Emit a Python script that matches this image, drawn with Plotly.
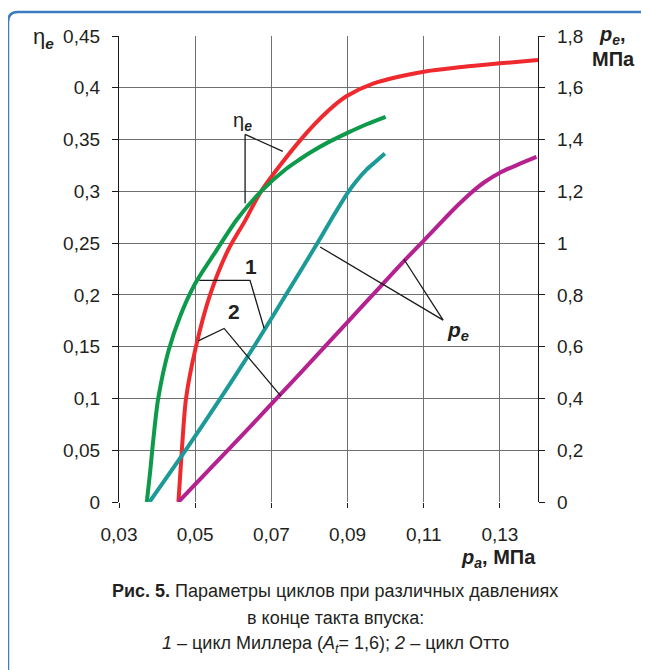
import plotly.graph_objects as go

# ---------------- data ----------------
# eta_e, Miller cycle (1) - green, left axis
miller_eta_x = [0.0373, 0.0382, 0.0390, 0.0403, 0.0430, 0.0460, 0.0500, 0.0556, 0.0610, 0.0673, 0.0740, 0.0775, 0.0800, 0.0850, 0.0900, 0.0950, 0.1000]
miller_eta_y = [0.0, 0.03, 0.06, 0.10, 0.146, 0.179, 0.211, 0.243, 0.273, 0.300, 0.322, 0.331, 0.337, 0.3475, 0.3565, 0.3648, 0.372]

# eta_e, Otto cycle (2) - red, left axis
otto_eta_x = [0.0456, 0.0465, 0.0476, 0.0502, 0.0539, 0.0586, 0.0630, 0.0673, 0.0775, 0.0850, 0.0898, 0.0967, 0.1100, 0.1200, 0.1300, 0.1400]
otto_eta_y = [0.0, 0.05, 0.10, 0.15, 0.20, 0.243, 0.271, 0.300, 0.349, 0.378, 0.392, 0.404, 0.4155, 0.420, 0.4236, 0.4268]

# p_e, Miller cycle (1) - teal, right axis (MPa)
miller_pe_x = [0.0380, 0.0475, 0.0565, 0.0639, 0.0683, 0.0731, 0.0823, 0.0860, 0.0902, 0.0925, 0.0950, 0.0975, 0.0998]
miller_pe_y = [0.0, 0.20, 0.397, 0.565, 0.668, 0.783, 1.005, 1.098, 1.198, 1.243, 1.284, 1.316, 1.346]

# p_e, Otto cycle (2) - purple, right axis (MPa)
otto_pe_x = [0.0456, 0.0550, 0.0644, 0.0720, 0.0784, 0.0900, 0.0985, 0.1051, 0.1100, 0.1150, 0.1190, 0.1221, 0.1260, 0.1300, 0.1350, 0.1396]
otto_pe_y = [0.0, 0.145, 0.29, 0.41, 0.51, 0.695, 0.83, 0.935, 1.01, 1.087, 1.147, 1.19, 1.236, 1.272, 1.305, 1.333]

x_tickvals = [0.03, 0.05, 0.07, 0.09, 0.11, 0.13]
x_ticktext = ["0,03", "0,05", "0,07", "0,09", "0,11", "0,13"]
yl_tickvals = [0, 0.05, 0.1, 0.15, 0.2, 0.25, 0.3, 0.35, 0.4, 0.45]
yl_ticktext = ["0", "0,05", "0,1", "0,15", "0,2", "0,25", "0,3", "0,35", "0,4", "0,45"]
yr_tickvals = [0, 0.2, 0.4, 0.6, 0.8, 1.0, 1.2, 1.4, 1.6, 1.8]
yr_ticktext = ["0", "0,2", "0,4", "0,6", "0,8", "1", "1,2", "1,4", "1,6", "1,8"]

# ---------------- layout constants ----------------
W, H = 649, 670
OFF = 8  # page body margin
L, R, T, B = 119, 538, 36, 502  # plot area in px (page coordinates)
FONT = "Liberation Sans Narrow, Liberation Sans, Arial, sans-serif"
TXT = "#231f20"
GRID = "#707070"

def px2paper(px, py):
    return (px - L) / (R - L), (B - py) / (B - T)

fig = go.Figure()
fig.add_trace(go.Scatter(x=otto_eta_x, y=otto_eta_y, mode="lines", line=dict(color="#ee2a2f", width=4, shape="spline", smoothing=0.8), yaxis="y"))
fig.add_trace(go.Scatter(x=miller_eta_x, y=miller_eta_y, mode="lines", line=dict(color="#0d9a4a", width=4, shape="spline", smoothing=0.8), yaxis="y"))
fig.add_trace(go.Scatter(x=miller_pe_x, y=miller_pe_y, mode="lines", line=dict(color="#1b9a98", width=4, shape="spline", smoothing=0.8), yaxis="y2"))
fig.add_trace(go.Scatter(x=otto_pe_x, y=otto_pe_y, mode="lines", line=dict(color="#b5218f", width=4, shape="spline", smoothing=0.8), yaxis="y2"))

shapes = []
# leader lines (data coordinates of left axis)
leaders = [
    ([0.0631, 0.0631], [0.2884, 0.355]),
    ([0.0631, 0.0730], [0.355, 0.3386]),
    ([0.0511, 0.0644, 0.0681], [0.2141, 0.2141, 0.1676]),
    ([0.0508, 0.0576, 0.0725], [0.1556, 0.1676, 0.1022]),
    ([0.0828, 0.1151, 0.1048], [0.2463, 0.1756, 0.2344]),
]
for xs, ys in leaders:
    path = "M " + " L ".join(f"{a},{b}" for a, b in zip(xs, ys))
    shapes.append(dict(type="path", path=path, xref="x", yref="y", line=dict(color="#1a1a1a", width=1.3)))

# blue frame (rounded top-left corner)
x0, y0 = px2paper(8, 12)
_, ybot = px2paper(8, 690)
xr, _ = px2paper(680, 12)
rx, ry = px2paper(8 + 10, 12 + 10)
shapes.append(dict(type="path", xref="paper", yref="paper", layer="above",
                   path=f"M {x0},{ybot} L {x0},{ry} Q {x0},{y0} {rx},{y0} L {xr},{y0}",
                   line=dict(color="#3d7cc0", width=2.5)))
fig.update_layout(shapes=shapes)

ann = []
def add_text(px, py, text, size, xanchor="center", yanchor="middle"):
    xp, yp = px2paper(px, py)
    ann.append(dict(x=xp, y=yp, xref="paper", yref="paper", text=text, showarrow=False,
                    xanchor=xanchor, yanchor=yanchor, font=dict(size=size, color=TXT, family=FONT)))

add_text(43, 38, "η<sub><b><i>e</i></b></sub>", 22)
add_text(242, 122, "η<sub><b><i>e</i></b></sub>", 20)
add_text(251, 266, "<b>1</b>", 21)
add_text(234, 311, "<b>2</b>", 21)
add_text(458, 331, "<b><i>p<sub>e</sub></i></b>", 21)
add_text(612, 35, "<b><i>p<sub>e</sub></i>,</b>", 20)
add_text(613, 59, "<b>МПа</b>", 20)
add_text(538, 558, "<b><i>p<sub>a</sub></i>, МПа</b>", 20, xanchor="right")
add_text(335, 591, "<b>Рис. 5.</b> Параметры циклов при различных давлениях", 18)
add_text(335, 618, "в конце такта впуска:", 18)
add_text(335, 644, "<i>1</i> – цикл Миллера (<i>A<sub>t</sub></i>= 1,6); <i>2</i> – цикл Отто", 18)
fig.update_layout(annotations=ann)

axis_common = dict(showline=True, linecolor="#1a1a1a", linewidth=1.3, ticks="outside", ticklen=6,
                   tickcolor="#1a1a1a", tickfont=dict(size=19, color=TXT, family=FONT), zeroline=False)

fig.update_layout(
    width=W - OFF, height=H - OFF,
    margin=dict(l=L - OFF, r=W - R, t=T - OFF, b=H - B),
    paper_bgcolor="white", plot_bgcolor="white",
    showlegend=False,
    xaxis=dict(range=[0.03, 0.14], tickvals=x_tickvals, ticktext=x_ticktext, showgrid=True,
               gridcolor=GRID, gridwidth=1, showline=False, ticks="outside", ticklen=5,
               tickcolor="#1a1a1a", tickfont=dict(size=19, color=TXT, family=FONT), zeroline=False,
               ticklabelstandoff=10),
    yaxis=dict(range=[0, 0.45], tickvals=yl_tickvals, ticktext=yl_ticktext, showgrid=True,
               gridcolor=GRID, gridwidth=1, ticklabelstandoff=8, **axis_common),
    yaxis2=dict(range=[0, 1.8], tickvals=yr_tickvals, ticktext=yr_ticktext, overlaying="y", side="right",
                showgrid=False, ticklabelstandoff=8, **axis_common),
)

fig.write_html("out.html")
